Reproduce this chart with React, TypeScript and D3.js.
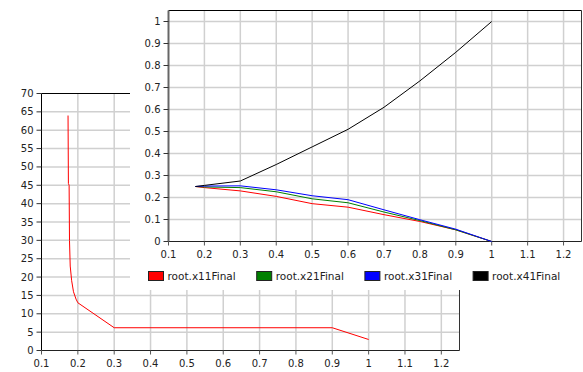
import React from 'react';
import * as d3 from 'd3';

// back chart (single series)
const backX = [0.173, 0.174, 0.176, 0.177, 0.179, 0.183, 0.188, 0.195, 0.2, 0.3, 0.9, 1.0];
const backY = [64, 45.5, 45, 30, 23, 19, 16, 14, 13, 6.2, 6.2, 3];
const backYTicks = [0, 5, 10, 15, 20, 25, 30, 35, 40, 45, 50, 55, 60, 65, 70];

// front chart
const frontX = [0.175, 0.2, 0.3, 0.4, 0.5, 0.6, 0.7, 0.8, 0.9, 1.0];
const x11 = [0.25, 0.245, 0.23, 0.205, 0.172, 0.156, 0.122, 0.091, 0.053, 0];
const x21 = [0.25, 0.248, 0.245, 0.226, 0.194, 0.176, 0.134, 0.095, 0.053, 0];
const x31 = [0.25, 0.252, 0.253, 0.235, 0.208, 0.19, 0.144, 0.099, 0.056, 0];
const x41 = [0.25, 0.255, 0.275, 0.35, 0.43, 0.51, 0.61, 0.73, 0.86, 1.0];
const frontYTicks = [0, 0.1, 0.2, 0.3, 0.4, 0.5, 0.6, 0.7, 0.8, 0.9, 1];

const xTicks = [0.1, 0.2, 0.3, 0.4, 0.5, 0.6, 0.7, 0.8, 0.9, 1, 1.1, 1.2];
const seriesNames = ['root.x11Final', 'root.x21Final', 'root.x31Final', 'root.x41Final'];
const seriesColors = ['#ff0000', '#008000', '#0000ff', '#000000'];
const seriesValues = [x11, x21, x31, x41];

const font = 'DejaVu Sans, Verdana, sans-serif';
const grid = '#d0d0d0';

const fmt = (v: number) => String(+v.toFixed(2));

const Panel = ({ x, y, yTicks, frameLeft, axisColor }: any) => {
  const [x0, x1] = x.range();
  const [y0, y1] = y.range();
  return (
    <g>
      {xTicks.filter(t => t > 0.15).map(t => (
        <line key={'vx' + t} x1={x(t)} x2={x(t)} y1={y1} y2={y0} stroke={grid} strokeWidth={1.5} />
      ))}
      {yTicks.filter((t: number) => t > 0 && y(t) > y1 + 1).map((t: number) => (
        <line key={'hy' + t} x1={x0} x2={x1} y1={y(t)} y2={y(t)} stroke={grid} strokeWidth={1.5} />
      ))}
      {/* frame */}
      <line x1={x0} x2={x1} y1={y1} y2={y1} stroke="#000" />
      <line x1={x1} x2={x1} y1={y1} y2={y0} stroke="#333" />
      <line x1={x0} x2={x1} y1={y0} y2={y0} stroke="#222" />
      <line x1={x0} x2={x0} y1={y1} y2={y0} stroke={axisColor} strokeWidth={frameLeft} />
      {yTicks.map((t: number) => (
        <g key={'yt' + t}>
          <line x1={x0 - 5} x2={x0} y1={y(t)} y2={y(t)} stroke="#333" />
          <text x={x0 - 8} y={y(t)} dy="0.35em" textAnchor="end" fontSize={10} fontFamily={font} fill="#222">
            {fmt(t)}
          </text>
        </g>
      ))}
      {xTicks.map(t => (
        <g key={'xt' + t}>
          <line x1={x(t)} x2={x(t)} y1={y0} y2={y0 + 4} stroke="#555" />
          <text x={x(t)} y={y0 + 16} textAnchor="middle" fontSize={10} fontFamily={font} fill="#222">
            {fmt(t)}
          </text>
        </g>
      ))}
    </g>
  );
};

export default function App() {
  // back chart scales
  const bx = d3.scaleLinear().domain([0.1, 1.25]).range([41.5, 459.5]);
  const by = d3.scaleLinear().domain([0, 70]).range([350.5, 93.5]);
  // front chart scales
  const fx = d3.scaleLinear().domain([0.1, 1.25]).range([168.5, 581.5]);
  const fy = d3.scaleLinear().domain([0, 1.05]).range([241.5, 10.5]);

  const backLine = d3.line<number>().x((d, i) => bx(backX[i])).y(d => by(d));
  const frontLine = d3.line<number>().x((d, i) => fx(frontX[i])).y(d => fy(d));

  return (
    <svg width={583} height={372} style={{ position: 'absolute', left: 0, top: 0, background: '#fff' }}>
      <rect width={583} height={372} fill="#fff" />
      <Panel x={bx} y={by} yTicks={backYTicks} frameLeft={1} axisColor="#000" />
      <path d={backLine(backY) || ''} fill="none" stroke="#ff0000" strokeWidth={1} />

      {/* front chart container */}
      <rect x={130} y={0} width={453} height={290} fill="#fff" />
      <Panel x={fx} y={fy} yTicks={frontYTicks} frameLeft={2} axisColor="#666" />
      {seriesValues.map((vals, i) => (
        <path key={seriesNames[i]} d={frontLine(vals) || ''} fill="none" stroke={seriesColors[i]} strokeWidth={1} />
      ))}
      {seriesNames.map((name, i) => (
        <g key={'lg' + name} transform={`translate(${148.5 + i * 108.2},271.5)`}>
          <rect width={15} height={9} fill={seriesColors[i]} stroke="#222" />
          <text x={19} y={8.5} fontSize={10.5} fontFamily={font} fill="#222">
            {name}
          </text>
        </g>
      ))}
    </svg>
  );
}
